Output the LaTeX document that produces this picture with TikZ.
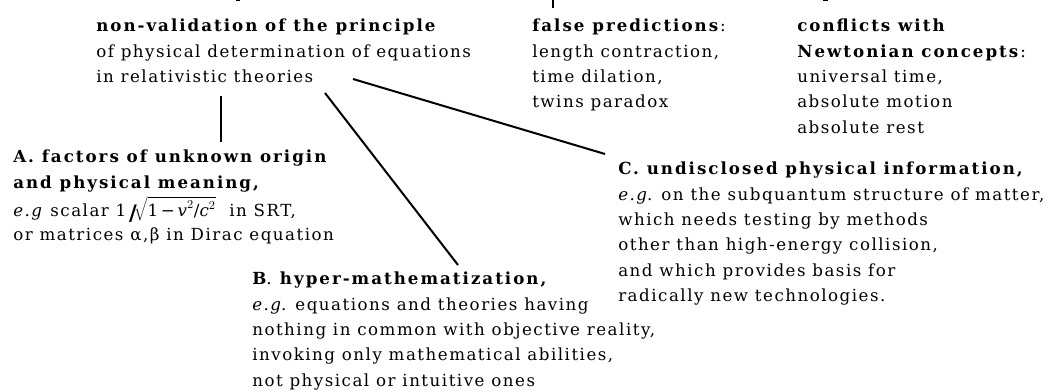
\documentclass[tikz,border=0pt]{standalone}
\usepackage{fontspec}
\setmainfont{DejaVu Serif}[LetterSpace=9,BoldFeatures={LetterSpace=12}]
\usetikzlibrary{calc}
\tikzset{
  txt/.style={anchor=north west, inner sep=0pt, align=left,
    font=\fontsize{12.5pt}{19pt}\selectfont},
  conn/.style={line width=1.5pt},
}
\newcommand\bigslash{{\fontsize{16pt}{16pt}\selectfont\bfseries /}}
\begin{document}
\begin{tikzpicture}[x=0.75pt,y=-0.75pt]
\useasboundingbox (0,0) rectangle (1062,392);
\node[txt] (N) at (96,19) {\textbf{non-validation of the principle}\\
of physical determination of equations\\
in relativistic theories};
\node[txt] (F) at (532,19) {\textbf{false predictions}:\\
length contraction,\\
time dilation,\\
twins paradox};
\node[txt] (W) at (797,19) {\textbf{conflicts with}\\
\textbf{Newtonian concepts}:\\
universal time,\\
absolute motion\\
absolute rest};
\node[txt] (A) at (13,150) {\textbf{A.\ factors of unknown origin}\\
\textbf{and physical meaning,}\\[2.5pt]
\textit{e.g} scalar 1\,\raisebox{-2.5pt}{\bigslash}$\!\sqrt{\mbox{1\,−\,\itshape v}^{2}\mbox{/\itshape c}^{2}}$\ \ in SRT,\\[-1pt]
or matrices α,β in Dirac equation};
\node[txt] (B) at (252,272) {\textbf{B}. \textbf{hyper-mathematization,}\\
\textit{e.g}. equations and theories having\\
nothing in common with objective reality,\\
invoking only mathematical abilities,\\
not physical or intuitive ones};
\node[txt] (C) at (618,162) {\textbf{C.\ undisclosed physical information,}\\
\textit{e.g}. on the subquantum structure of matter,\\
which needs testing by methods\\
other than high-energy collision,\\
and which provides basis for\\
radically new technologies.};
\coordinate (topF) at (553,-1);
\draw[conn] ($(N.north west)+(125,77)$) -- ($(A.north west)+(208,-8)$);
\draw[conn] ($(N.north west)+(229,74)$) -- ($(B.north west)+(206,-7)$);
\draw[conn] ($(N.north west)+(257,60)$) -- ($(C.north west)+(-13,-8)$);
\draw[conn] ($(F.north west)+(21,-11)$) -- (topF);
\fill (235.5,0) rectangle (239.5,1.5);
\fill (822.5,0) rectangle (827.5,1.5);
\end{tikzpicture}
\end{document}
